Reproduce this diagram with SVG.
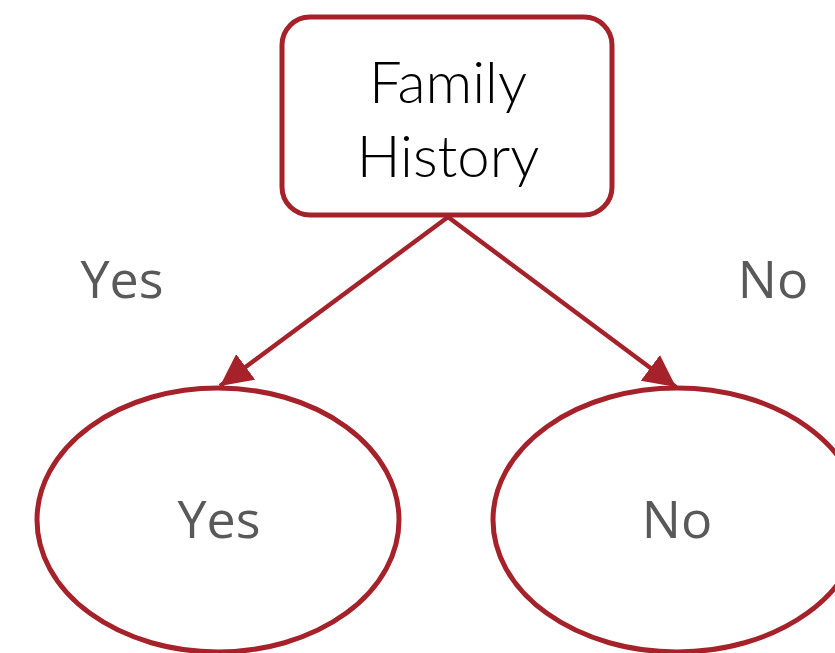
<svg xmlns="http://www.w3.org/2000/svg" width="835" height="653" viewBox="0 0 835 653">
<style>
.shape{fill:#fff;stroke:#A6222A;stroke-width:5}
.conn{stroke:#A6222A;stroke-width:4.5;fill:none}
.title{font-family:Lato,"Open Sans",sans-serif;font-weight:300;font-size:58px;fill:#000;text-anchor:middle}
.lbl{font-family:"Open Sans","Liberation Sans",sans-serif;font-size:52px;fill:#595959;text-anchor:middle}
</style>
<defs>
<marker id="ah" markerUnits="userSpaceOnUse" markerWidth="36" markerHeight="36" refX="32" refY="16" orient="auto">
<path d="M0,0 L32,16 L0,32 Z" fill="#A6222A"/>
</marker>
</defs>
<rect width="835" height="653" fill="#fff"/>
<g id="connectors">
<line class="conn" x1="448" y1="217" x2="220" y2="386" marker-end="url(#ah)"/>
<line class="conn" x1="448" y1="217" x2="676" y2="387" marker-end="url(#ah)"/>
<text class="lbl" x="122" y="298">Yes</text>
<text class="lbl" x="773" y="298">No</text>
</g>
<g id="node-family">
<rect class="shape" x="282" y="17" width="330" height="198" rx="28"/>
<text class="title" x="448" y="103">Family</text>
<text class="title" x="448" y="177">History</text>
</g>
<g id="node-yes">
<ellipse class="shape" cx="218" cy="520" rx="181" ry="132"/>
<text class="lbl" x="219" y="538">Yes</text>
</g>
<g id="node-no">
<ellipse class="shape" cx="677" cy="520" rx="184" ry="132"/>
<text class="lbl" x="677" y="538">No</text>
</g>
</svg>
